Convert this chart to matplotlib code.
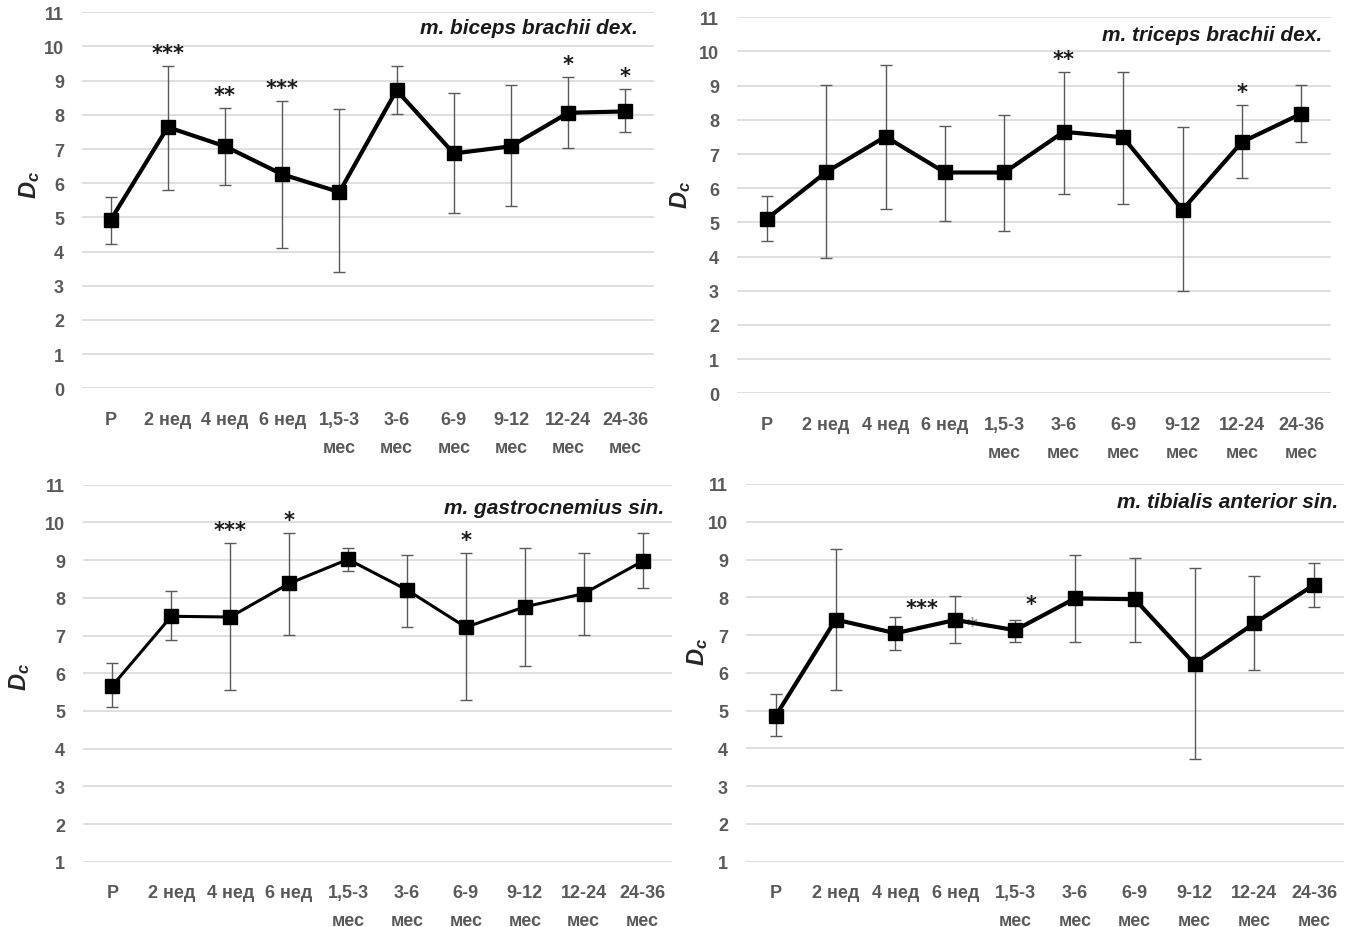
import matplotlib
matplotlib.use("Agg")
import matplotlib.pyplot as plt

plt.rcParams['font.family'] = ['Liberation Sans', 'DejaVu Sans']
plt.rcParams['mathtext.fontset'] = 'custom'
plt.rcParams['mathtext.it'] = 'Liberation Sans:italic:bold'
plt.rcParams['mathtext.rm'] = 'Liberation Sans:bold'

categories = ['P', '2 нед', '4 нед', '6 нед', '1,5-3\nмес', '3-6\nмес',
              '6-9\nмес', '9-12\nмес', '12-24\nмес', '24-36\nмес']

# m. biceps brachii dex.
biceps_mean = [4.92, 7.64, 7.08, 6.26, 5.74, 8.72, 6.87, 7.08, 8.06, 8.10]
biceps_hi = [5.60, 9.44, 8.21, 8.41, 8.17, 9.44, 8.64, 8.86, 9.11, 8.76]
biceps_lo = [4.23, 5.81, 5.96, 4.10, 3.40, 8.02, 5.12, 5.32, 7.04, 7.49]
biceps_stars = ['', '***', '**', '***', '', '', '', '', '*', '*']

# m. triceps brachii dex.
triceps_mean = [5.10, 6.47, 7.51, 6.46, 6.46, 7.65, 7.49, 5.37, 7.35, 8.18]
triceps_hi = [5.77, 9.01, 9.60, 7.83, 8.13, 9.40, 9.40, 7.80, 8.43, 9.01]
triceps_lo = [4.45, 3.96, 5.39, 5.04, 4.75, 5.82, 5.53, 2.98, 6.31, 7.35]
triceps_stars = ['', '', '', '', '', '**', '', '', '*', '']

# m. gastrocnemius sin.
gastro_mean = [5.67, 7.51, 7.49, 8.38, 9.02, 8.21, 7.22, 7.76, 8.11, 8.97]
gastro_hi = [6.26, 8.17, 9.45, 9.72, 9.32, 9.14, 9.19, 9.32, 9.18, 9.72]
gastro_lo = [5.11, 6.88, 5.55, 7.01, 8.71, 7.23, 5.29, 6.20, 7.01, 8.27]
gastro_stars = ['', '', '***', '*', '', '', '*', '', '', '']

# m. tibialis anterior sin.
tibial_mean = [4.87, 7.41, 7.05, 7.40, 7.13, 7.97, 7.95, 6.24, 7.31, 8.33]
tibial_hi = [5.44, 9.27, 7.49, 8.03, 7.40, 9.13, 9.04, 8.78, 8.56, 8.90]
tibial_lo = [4.34, 5.55, 6.61, 6.79, 6.83, 6.83, 6.83, 3.72, 6.07, 7.75]
# stars in this panel sit between categories
tibial_star_text = ['***', '*', '*']
tibial_star_x = [2.45, 4.27, 3.28]
tibial_star_y = [7.72, 7.82, 7.25]

W, H = 1348, 928
fig = plt.figure(figsize=(W / 100, H / 100), dpi=100)

gray = '#595959'


def make_axes(left, right, top, bottom, ymin, ymax):
    ax = fig.add_axes([left / W, 1 - bottom / H, (right - left) / W, (bottom - top) / H])
    ax.set_xlim(-0.5, 9.5)
    ax.set_ylim(ymin, ymax)
    ax.set_yticks(range(ymin, ymax + 1))
    ax.set_xticks(range(len(categories)))
    ax.set_xticklabels(categories, linespacing=1.85, va='top')
    for s in ax.spines.values():
        s.set_visible(False)
    ax.tick_params(length=0, colors=gray, labelsize=13, pad=0)
    ax.tick_params(axis='y', pad=13)
    ax.tick_params(axis='x', pad=16)
    for lab in ax.get_xticklabels() + ax.get_yticklabels():
        lab.set_fontweight('bold')
    ax.yaxis.grid(True, color='#d9d9d9', lw=1.2)
    ax.set_axisbelow(True)
    return ax


def draw(ax, mean, hi, lo, lw):
    x = list(range(len(mean)))
    yerr = [[m - l for m, l in zip(mean, lo)], [h - m for h, m in zip(hi, mean)]]
    ax.errorbar(x, mean, yerr=yerr, fmt='none', ecolor='#595959', elinewidth=1,
                capsize=4, capthick=1, zorder=2)
    ax.plot(x, mean, color='black', lw=lw, marker='s', ms=9.5, zorder=3, clip_on=False)


def add_stars(ax, hi, stars):
    for i, s in enumerate(stars):
        if s:
            ax.annotate(s, (i, hi[i]), xytext=(0, 2), textcoords='offset points',
                        ha='center', va='bottom', fontsize=15, color='#1a1a1a',
                        family='DejaVu Sans', fontweight='bold')


def add_title(ax, txt, xr, yc, left, right, top, bottom):
    fx = (xr - left) / (right - left)
    fy = (bottom - yc) / (bottom - top)
    ax.text(fx, fy, txt, transform=ax.transAxes, ha='right', va='center',
            fontsize=15, fontweight='bold', fontstyle='italic', color='#1a1a1a')


def add_ylabel(ax, xc, yc, left, right, top, bottom):
    fx = (xc - left) / (right - left)
    fy = (bottom - yc) / (bottom - top)
    ax.text(fx, fy, r'$D_c$', transform=ax.transAxes, rotation=90,
            ha='center', va='center', fontsize=17, color='#262626')


# top left
p1 = (82, 654, 13.3, 389.3)
ax1 = make_axes(*p1, 0, 11)
draw(ax1, biceps_mean, biceps_hi, biceps_lo, 3.0)
add_stars(ax1, biceps_hi, biceps_stars)
add_title(ax1, 'm. biceps brachii dex.', 638, 28, *p1)
add_ylabel(ax1, 30, 185, *p1)

# top right
p2 = (737, 1331, 18.3, 394.3)
ax2 = make_axes(*p2, 0, 11)
draw(ax2, triceps_mean, triceps_hi, triceps_lo, 3.0)
add_stars(ax2, triceps_hi, triceps_stars)
add_title(ax2, 'm. triceps brachii dex.', 1322, 35, *p2)
add_ylabel(ax2, 681, 195, *p2)

# bottom left
p3 = (83, 672, 485.7, 862.7)
ax3 = make_axes(*p3, 1, 11)
draw(ax3, gastro_mean, gastro_hi, gastro_lo, 2.2)
add_stars(ax3, gastro_hi, gastro_stars)
add_title(ax3, 'm. gastrocnemius sin.', 664, 508, *p3)
add_ylabel(ax3, 20, 677, *p3)

# bottom right
p4 = (746, 1344, 485.0, 862.7)
ax4 = make_axes(*p4, 1, 11)
draw(ax4, tibial_mean, tibial_hi, tibial_lo, 3.0)
for s, x, y in zip(tibial_star_text, tibial_star_x, tibial_star_y):
    faint = (x == 3.28)
    ax4.text(x, y, s, ha='center', va='center', fontsize=15, family='DejaVu Sans',
             fontweight='bold', color='#9a9a9a' if faint else '#1a1a1a',
             zorder=1 if faint else 4)
add_title(ax4, 'm. tibialis anterior sin.', 1338, 503, *p4)
add_ylabel(ax4, 698, 652, *p4)

fig.savefig('out.png', dpi=100)
